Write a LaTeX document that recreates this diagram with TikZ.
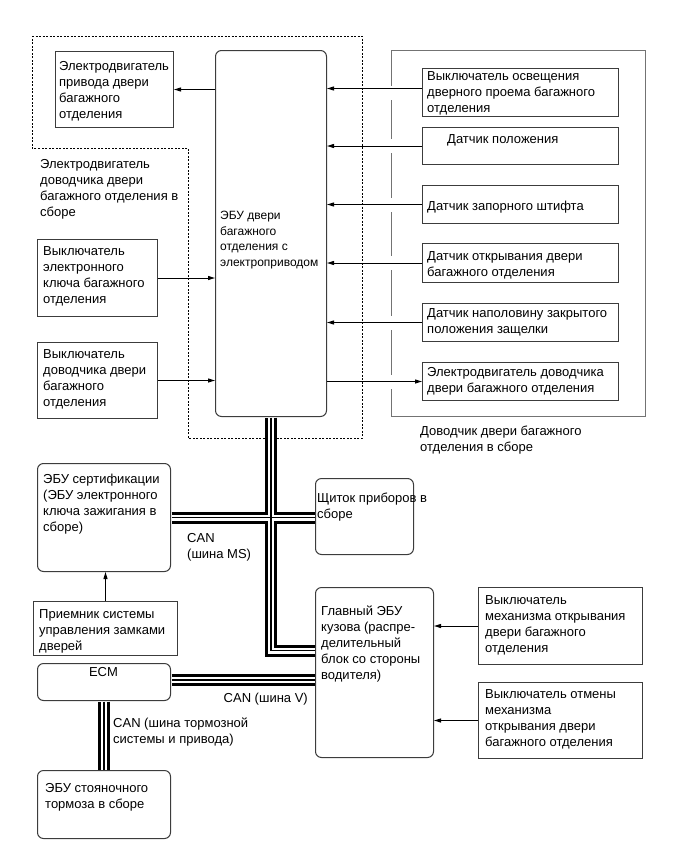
\documentclass[tikz,border=0pt]{standalone}
\usepackage{fontspec}
\setmainfont{Liberation Sans}
\definecolor{boxline}{RGB}{60,60,60}
\definecolor{frameline}{RGB}{115,115,115}
\usetikzlibrary{arrows.meta, calc}

\begin{document}
\begin{tikzpicture}[x=1pt, y=-1pt,
    box/.style={draw=boxline, line width=1pt, anchor=north west, inner sep=0pt},
    unit/.style={box, rounded corners=6pt},
    lbl/.style={anchor=north west, inner sep=0pt, yshift=-1.5pt, align=left, font=\fontsize{13}{16}\selectfont},
    sig/.style={-{Triangle[length=7pt,width=4pt]}, line width=1pt},
    bus/.style={shorten <=0.5pt, shorten >=0.5pt}
]
    \useasboundingbox (0,0) rectangle (687,857);

    % Dotted outline of the closer motor assembly
    \draw[line width=1pt, dash pattern=on 2pt off 1.5pt] (32,36) -- (362,36) -- (362,438) -- (188,438) -- (188,148) -- (32,148) -- cycle;

    % Frame of the closer assembly
    \node[box, draw=frameline, minimum width=254pt, minimum height=366pt] (closer) at (391,50) {};

    % Power back door ECU
    \node[unit, minimum width=111pt, minimum height=366pt] (ecu) at (215,50) {};
    \node[lbl, font=\fontsize{12}{15.6}\selectfont] (ecutxt) at (220,209.5) {ЭБУ двери\\багажного\\отделения с\\электроприводом};

    % Left side
    \node[box, minimum width=118pt, minimum height=76pt] (motor) at (55,51) {};
    \node[lbl] (motortxt) at (59,59.5) {Электродвигатель\\привода двери\\багажного\\отделения};
    \node[lbl] (closemottxt) at (40,157.5) {Электродвигатель\\доводчика двери\\багажного отделения в\\сборе};
    \node[box, minimum width=120pt, minimum height=77pt] (keysw) at (37,239) {};
    \node[lbl] (keyswtxt) at (43,244.5) {Выключатель\\электронного\\ключа багажного\\отделения};
    \node[box, minimum width=120pt, minimum height=76pt] (closesw) at (37,342) {};
    \node[lbl] (closeswtxt) at (43,347.5) {Выключатель\\доводчика двери\\багажного\\отделения};

    % Right side
    \node[box, minimum width=196pt, minimum height=48pt] (lamp) at (422,68) {};
    \node[lbl] (lamptxt) at (427,70) {Выключатель освещения\\дверного проема багажного\\отделения};
    \node[box, minimum width=196pt, minimum height=37pt] (pos) at (422,127) {};
    \node[lbl] (postxt) at (447,132.5) {Датчик положения};
    \node[box, minimum width=196pt, minimum height=38pt] (pin) at (422,185) {};
    \node[lbl] (pintxt) at (427,199.5) {Датчик запорного штифта};
    \node[box, minimum width=196pt, minimum height=39pt] (opensens) at (422,243) {};
    \node[lbl] (opensenstxt) at (427,249.5) {Датчик открывания двери\\багажного отделения};
    \node[box, minimum width=196pt, minimum height=38pt] (halflatch) at (422,303) {};
    \node[lbl] (halflatchtxt) at (427,306.5) {Датчик наполовину закрытого\\положения защелки};
    \node[box, minimum width=196pt, minimum height=38pt] (closemot) at (422,362) {};
    \node[lbl] (closemottxt2) at (427,365.5) {Электродвигатель доводчика\\двери багажного отделения};
    \node[lbl] (closertxt) at (420,424.5) {Доводчик двери багажного\\отделения в сборе};

    % Gaps in the frame where the wires pass
    \foreach \n in {lamp,pos,pin,opensens,halflatch,closemot}
        \fill[white] ($(closer.west |- \n.west)+(-2,-7)$) rectangle +(4,14);

    % Lower part
    \node[unit, minimum width=133pt, minimum height=108pt] (cert) at (37,463) {};
    \node[lbl] (certtxt) at (43,472.5) {ЭБУ сертификации\\(ЭБУ электронного\\ключа зажигания в\\сборе)};
    \node[box, minimum width=144pt, minimum height=54pt] (recv) at (33,601) {};
    \node[lbl] (recvtxt) at (39,607.5) {Приемник системы\\управления замками\\дверей};
    \node[unit, minimum width=98pt, minimum height=76pt] (meter) at (315,478) {};
    \node[lbl] (metertxt) at (317,491.5) {Щиток приборов в\\сборе};
    \node[unit, minimum width=118pt, minimum height=170pt] (body) at (315,587) {};
    \node[lbl] (bodytxt) at (321,604.5) {Главный ЭБУ\\кузова (распре-\\делительный\\блок со стороны\\водителя)};
    \node[box, minimum width=164pt, minimum height=77pt] (opensw) at (478,587) {};
    \node[lbl] (openswtxt) at (485,593.5) {Выключатель\\механизма открывания\\двери багажного\\отделения};
    \node[box, minimum width=164pt, minimum height=76pt] (cancelsw) at (478,682) {};
    \node[lbl] (cancelswtxt) at (485,687.5) {Выключатель отмены\\механизма\\открывания двери\\багажного отделения};
    \node[unit, minimum width=133pt, minimum height=37pt] (ecm) at (37,663) {};
    \node[lbl, anchor=north] (ecmtxt) at (103.5,665.5) {ECM};
    \node[unit, minimum width=133pt, minimum height=68pt] (epb) at (37,770) {};
    \node[lbl] (epbtxt) at (45,781.5) {ЭБУ стояночного\\тормоза в сборе};

    % CAN buses
    \foreach \w/\c in {12pt/black, 6pt/white, 1.2pt/black}{
        \draw[bus, line width=\w, \c] (ecu.south) |- ([yshift=22pt]body.west);
        \draw[bus, line width=\w, \c] (cert.east) -- (cert.east -| meter.west);
        \draw[bus, line width=\w, \c] ([yshift=2pt]ecm.east) -- ([yshift=2pt]ecm.east -| body.west);
        \draw[bus, line width=\w, \c] (ecm.south) -- (epb.north);
    }
    \node[lbl] (mstxt) at (187,531.5) {CAN\\(шина MS)};
    \node[lbl, anchor=north east] (vtxt) at (308,691.5) {CAN (шина V)};
    \node[lbl] (braketxt) at (113,716.5) {CAN (шина тормозной\\системы и привода)};

    % Signal lines
    \draw[sig] (ecu.west |- motor.east) -- (motor.east);
    \draw[sig] (keysw.east) -- (keysw.east -| ecu.west);
    \draw[sig] (closesw.east) -- (closesw.east -| ecu.west);
    \draw[sig] ([yshift=4pt]lamp.west) -- ([yshift=4pt]lamp.west -| ecu.east);
    \foreach \n in {pos,pin,opensens,halflatch}
        \draw[sig] (\n.west) -- (\n.west -| ecu.east);
    \draw[sig] (ecu.east |- closemot.west) -- (closemot.west);
    \draw[sig] (recv.north) -- (recv.north |- cert.south);
    \draw[sig] (opensw.west) -- (opensw.west -| body.east);
    \draw[sig] (cancelsw.west) -- (cancelsw.west -| body.east);
\end{tikzpicture}
\end{document}
